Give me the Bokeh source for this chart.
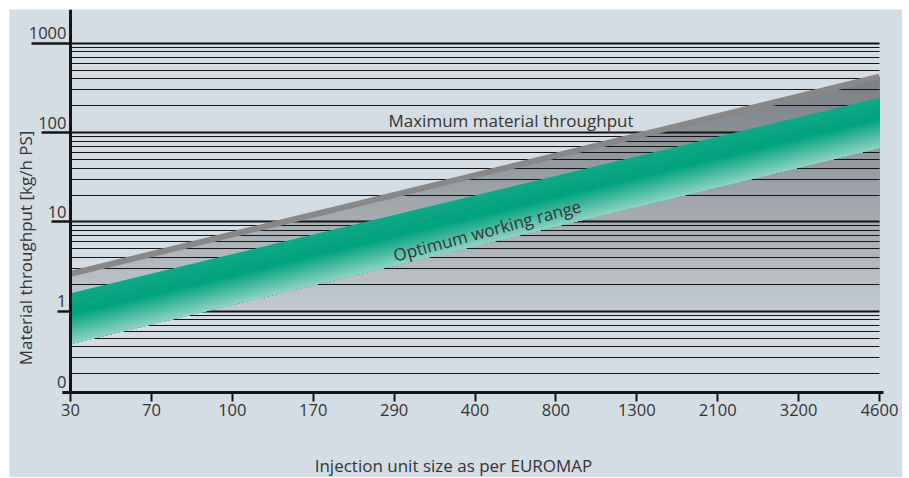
import numpy as np
from bokeh.plotting import figure
from bokeh.models import (Range1d, LogScale, LinearAxis, LogAxis, FixedTicker,
                          Grid, Label)
from bokeh.embed import file_html
from bokeh.resources import INLINE

# ---------------- data ----------------
X_LABELS = ["30", "70", "100", "170", "290", "400", "800", "1300", "2100", "3200", "4600"]
Y_TICKS = [0.123, 1, 10, 100, 1000]
Y_LABELS = ["0", "1", "10", "100", "1000"]
Y_GRID_MAJOR = [1, 10, 100, 1000]
Y_GRID_MINOR = [m * 10.0 ** k for k in (-1, 0, 1, 2) for m in range(2, 10)]

MAX_THROUGHPUT = [2.62, 422]     # at 30 and 4600
OPT_UPPER = [1.59, 246]          # optimum working range, upper edge
OPT_LOWER = [0.43, 67]           # optimum working range, lower edge
GRAY_FLOOR = 1.0                 # gray area reaches down to 1 kg/h

# ---------------- style ----------------
PANEL = "#d5dde4"
INK = "#141414"
TXT = "#333333"
FONT = "Open Sans"
W, H = 902, 477
B_LEFT, B_TOP = 9, 9
Y_MIN, Y_MAX = 0.01373, 2390
UNDERLINE = [8, 13, 19, 29, 39]

X_POS = list(range(len(X_LABELS)))
x0, x1 = X_POS[0], X_POS[-1]

p = figure(width=W, height=H, output_backend="svg", toolbar_location=None,
           x_range=Range1d(x0 - 0.754, x1 + 0.284), y_range=Range1d(Y_MIN, Y_MAX),
           y_axis_type="log", x_axis_location=None, y_axis_location=None,
           min_border_left=B_LEFT, min_border_right=0,
           min_border_top=B_TOP, min_border_bottom=0,
           background_fill_color=PANEL, border_fill_color="white",
           outline_line_color=None)
p.y_scale = LogScale()
p.title.visible = False
p.center = [r for r in p.center if not isinstance(r, Grid)]

frame_h = H - B_TOP
decade_px = frame_h / (np.log10(Y_MAX) - np.log10(Y_MIN))


def mix(stops, t):
    for (t0, c0), (t1, c1) in zip(stops[:-1], stops[1:]):
        if t <= t1:
            u = 0 if t1 == t0 else (t - t0) / (t1 - t0)
            c = [round(a + (b - a) * u) for a, b in zip(c0, c1)]
            return "#%02x%02x%02x" % tuple(c)
    return "#%02x%02x%02x" % tuple(stops[-1][1])


# ---------------- gray area (vertical gradient) ----------------
la, lb = np.log10(MAX_THROUGHPUT)
lf = np.log10(GRAY_FLOOR)
slope = (lb - la) / (x1 - x0)
top = lb + 0.04
N = 70
gray_stops = [(0.0, (120, 126, 131)), (1.0, (194, 201, 207))]
gxs, gys, gcol = [], [], []
for k in range(N):
    L = top - (top - lf) * k / N
    if L >= lb:
        xs = [x0, x0, x1, x1]
        ys = [lf, la, lb, lf]
    elif L > la:
        xc = x0 + (L - la) / slope
        xs = [x0, x0, xc, x1, x1]
        ys = [lf, la, L, L, lf]
    else:
        xs = [x0, x0, x1, x1]
        ys = [lf, L, L, lf]
    gxs.append(xs)
    gys.append([10 ** v for v in ys])
    gcol.append(mix(gray_stops, (k + 0.5) / N))
gr = p.patches(gxs, gys, fill_color=gcol, line_color=None)
gr.level = "image"

# ---------------- grid ----------------
grid = Grid(dimension=1, ticker=FixedTicker(ticks=Y_GRID_MAJOR, minor_ticks=Y_GRID_MINOR),
            grid_line_color=INK, grid_line_width=2,
            minor_grid_line_color=INK, minor_grid_line_width=1)
if "cross_bounds" in Grid.properties():
    grid.cross_bounds = (x0, x1)
p.add_layout(grid)

# ---------------- optimum working range band ----------------
lu0, lu1 = np.log10(OPT_UPPER)
ll0, ll1 = np.log10(OPT_LOWER)
band_stops = [(0.0, (18, 168, 135)), (0.42, (0, 163, 127)), (1.0, (144, 211, 196))]
M = 60
bxs, bys, bcol = [], [], []
for k in range(M):
    t = k / M
    u0 = lu0 + (ll0 - lu0) * t
    u1 = lu1 + (ll1 - lu1) * t
    bxs.append([x0, x1, x1, x0])
    bys.append([10 ** u0, 10 ** u1, 10 ** ll1, 10 ** ll0])
    bcol.append(mix(band_stops, t + 0.5 / M))
p.patches(bxs, bys, fill_color=bcol, line_color=None)

# ---------------- maximum throughput line ----------------
p.line([x0, x1], MAX_THROUGHPUT, line_width=6, line_color="#888888")

# ---------------- axes (all drawn inside the frame) ----------------
xax = LinearAxis(fixed_location=Y_TICKS[0], ticker=FixedTicker(ticks=X_POS),
                 major_label_overrides={i: s for i, s in zip(X_POS, X_LABELS)},
                 bounds=(x0 - 0.1, x1 + 0.05),
                 axis_line_width=3, axis_line_color=INK,
                 major_tick_out=9, major_tick_in=0, major_tick_line_width=2,
                 major_tick_line_color=INK, minor_tick_out=0, minor_tick_in=0,
                 major_label_text_font=FONT, major_label_text_font_size="16.5px",
                 major_label_text_color=TXT, major_label_standoff=3)
p.add_layout(xax, "below")

yline = LogAxis(fixed_location=x0, ticker=FixedTicker(ticks=[]),
                bounds=(Y_TICKS[0], Y_MAX),
                axis_line_width=3, axis_line_color=INK,
                major_tick_out=0, major_tick_in=0, minor_tick_out=0, minor_tick_in=0,
                major_label_text_color=None)
p.add_layout(yline, "left")

for v, L in zip(Y_TICKS, UNDERLINE):
    ax = LogAxis(fixed_location=x0, ticker=FixedTicker(ticks=[v]),
                 axis_line_color=None, major_tick_out=L, major_tick_in=0,
                 major_tick_line_width=2.5, major_tick_line_color=INK,
                 minor_tick_out=0, minor_tick_in=0, major_label_text_color=None)
    p.add_layout(ax, "left")

shift = 10 ** (-10.0 / decade_px)
p.extra_y_ranges = {"lbl": Range1d(Y_MIN * shift, Y_MAX * shift)}
p.extra_y_scales = {"lbl": LogScale()}
lab_ax = LogAxis(y_range_name="lbl", fixed_location=x0, ticker=FixedTicker(ticks=Y_TICKS),
                 major_label_overrides={v: s for v, s in zip(Y_TICKS, Y_LABELS)},
                 axis_line_color=None, major_tick_out=0, major_tick_in=0,
                 major_tick_line_color=None, minor_tick_out=0, minor_tick_in=0,
                 major_label_standoff=4, major_label_text_font=FONT,
                 major_label_text_font_size="16.5px", major_label_text_color=TXT)
p.add_layout(lab_ax, "left")

# ---------------- texts ----------------
common = dict(text_font=FONT, text_font_size="17px", text_color=TXT)
p.add_layout(Label(x=15.5, y=229.5, x_units="screen", y_units="screen",
                   text="Material throughput [kg/h PS]", angle=90, angle_units="deg",
                   text_align="center", text_baseline="middle", **common))
p.add_layout(Label(x=444, y=12, x_units="screen", y_units="screen",
                   text="Injection unit size as per EUROMAP",
                   text_align="center", text_baseline="middle", **common))
p.add_layout(Label(x=5.445, y=136.6, text="Maximum material throughput",
                   text_align="center", text_baseline="alphabetic", **common))
p.add_layout(Label(x=5.15, y=8.0, text="Optimum working range", angle=15, angle_units="deg",
                   text_align="center", text_baseline="middle", **common))

open("out.html", "w").write(file_html(p, INLINE))
